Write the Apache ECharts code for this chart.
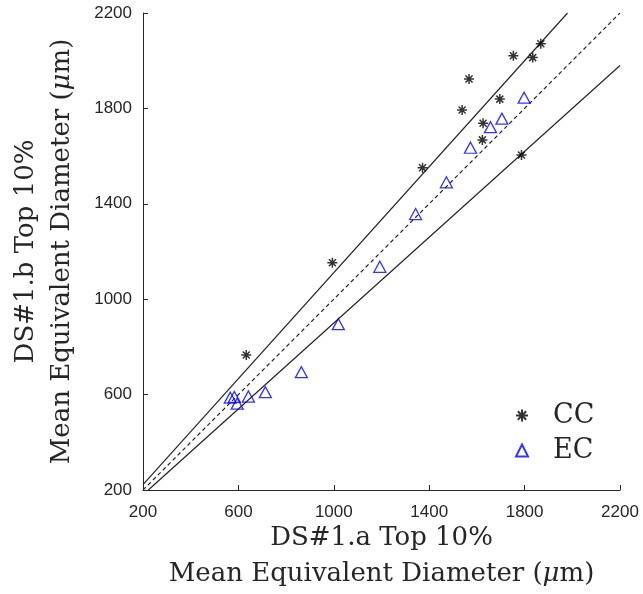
<!DOCTYPE html>
<html>
<head>
<meta charset="utf-8">
<script src="https://cdn.jsdelivr.net/npm/echarts@6/dist/echarts.min.js"></script>
<style>
html,body{margin:0;padding:0;background:#fff;}
#chart{width:643px;height:594px;}
</style>
</head>
<body>
<div id="chart"></div>
<script>
// ---- data ----
var xTicks = [200, 600, 1000, 1400, 1800, 2200];
var yTicks = [200, 600, 1000, 1400, 1800, 2200];

var ccX = [633, 994, 1372, 1538, 1567, 1623, 1626, 1696, 1753, 1787, 1834, 1868];
var ccY = [766, 1153, 1551, 1793, 1923, 1668, 1738, 1839, 2021, 1605, 2013, 2071];

var ecX = [566, 583, 595, 642, 713, 864, 1019, 1193, 1343, 1472, 1573, 1657, 1705, 1798];
var ecY = [587, 590, 562, 592, 610, 694, 895, 1136, 1357, 1490, 1635, 1721, 1757, 1845];

// reference lines: y = x, y = x/0.9, y = 0.9x
var identityX = [200, 2200];
var identityY = [200, 2200];
var upperX = [200, 1980];
var upperY = [222.2, 2200];
var lowerX = [222.2, 2200];
var lowerY = [200, 1980];

function zip(a, b) { return a.map(function (v, i) { return [v, b[i]]; }); }

var asterisk = 'path://M0,-10L0,10M-10,0L10,0M-7,-7L7,7M-7,7L7,-7';
var txt = '#262626';
var serif = 'DejaVu Serif';
var plain = function (v) { return String(v); };

var chart = echarts.init(document.getElementById('chart'), null, {renderer: 'canvas'});
chart.setOption({
  animation: false,
  backgroundColor: '#fff',
  grid: {left: 143, top: 13, width: 477, height: 477, containLabel: false, outerBoundsMode: 'none'},
  xAxis: {
    type: 'value', min: 200, max: 2200,
    axisLine: {show: true, lineStyle: {color: txt, width: 1}},
    axisTick: {show: true, inside: true, length: 5, customValues: xTicks, lineStyle: {color: txt}},
    axisLabel: {customValues: xTicks, formatter: plain, margin: 14, fontFamily: 'Liberation Sans', fontSize: 17, color: txt},
    splitLine: {show: false},
    name: 'DS#1.a Top 10%\nMean Equivalent Diameter ({i|μ}m)',
    nameLocation: 'middle', nameGap: 30, nameMoveOverlap: false,
    nameTextStyle: {fontFamily: serif, fontSize: 26, color: txt, lineHeight: 36,
      rich: {i: {fontFamily: serif, fontSize: 26, fontStyle: 'italic', color: txt, lineHeight: 36}}}
  },
  yAxis: {
    type: 'value', min: 200, max: 2200,
    axisLine: {show: true, lineStyle: {color: txt, width: 1}},
    axisTick: {show: true, inside: true, length: 5, customValues: yTicks, lineStyle: {color: txt}},
    axisLabel: {customValues: yTicks, formatter: plain, margin: 11, fontFamily: 'Liberation Sans', fontSize: 17, color: txt},
    splitLine: {show: false},
    name: 'DS#1.b Top 10%\nMean Equivalent Diameter ({i|μ}m)',
    nameLocation: 'middle', nameGap: 63, nameMoveOverlap: false,
    nameTextStyle: {fontFamily: serif, fontSize: 26, color: txt, lineHeight: 36,
      rich: {i: {fontFamily: serif, fontSize: 26, fontStyle: 'italic', color: txt, lineHeight: 36}}}
  },
  legend: {
    orient: 'vertical', left: 510, top: 397,
    itemWidth: 12, itemHeight: 12, itemGap: 8,
    textStyle: {fontFamily: serif, fontSize: 27, color: txt, lineHeight: 26, padding: [0, 0, 0, 20]},
    data: [{name: 'CC', icon: asterisk}, {name: 'EC', icon: 'triangle'}]
  },
  series: [
    {type: 'line', silent: true, symbol: 'none', data: zip(identityX, identityY),
     lineStyle: {color: txt, width: 1.2, type: [4, 3]}, z: 1},
    {type: 'line', silent: true, symbol: 'none', data: zip(upperX, upperY),
     lineStyle: {color: txt, width: 1.2}, z: 1},
    {type: 'line', silent: true, symbol: 'none', data: zip(lowerX, lowerY),
     lineStyle: {color: txt, width: 1.2}, z: 1},
    {name: 'CC', type: 'scatter', symbol: asterisk, symbolSize: 10, data: zip(ccX, ccY),
     itemStyle: {color: 'transparent', borderColor: '#000', borderWidth: 1.5}, z: 3},
    {name: 'EC', type: 'scatter', symbol: 'triangle', symbolSize: [12, 11], data: zip(ecX, ecY),
     itemStyle: {color: 'transparent', borderColor: '#0000ff', borderWidth: 1.3}, z: 3}
  ]
});
</script>
</body>
</html>
